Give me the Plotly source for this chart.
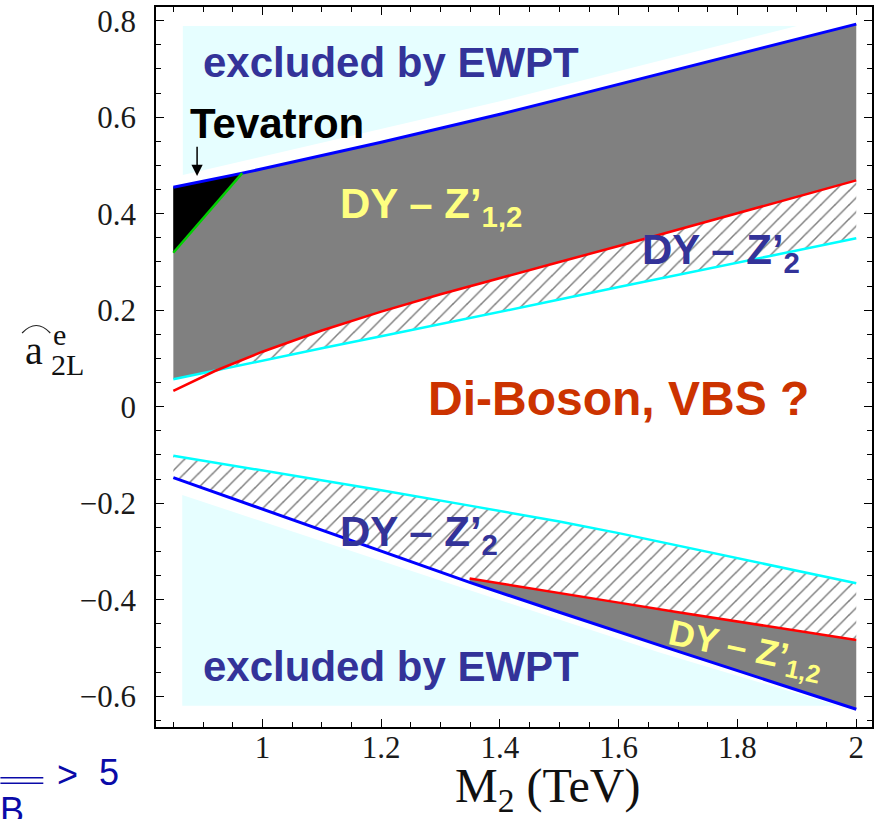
import plotly.graph_objects as go
import numpy as np

# ---------------- data ----------------
# upper branch (a > 0)
X_UP = [0.85, 0.9, 0.92, 0.95, 1.0, 1.1, 1.2, 1.3, 1.4, 1.5, 1.6, 1.7, 1.8, 1.9, 2.0]
EWPT_UP = [0.455, 0.467, 0.472, 0.480, 0.493, 0.520, 0.548, 0.577, 0.606, 0.637, 0.668, 0.700, 0.731, 0.762, 0.793]
DY12_UP = [0.033, 0.062, 0.074, 0.089, 0.114, 0.158, 0.197, 0.233, 0.267, 0.300, 0.333, 0.367, 0.401, 0.435, 0.469]
DY2_UP = [0.057, 0.070, 0.075, 0.082, 0.095, 0.121, 0.146, 0.171, 0.197, 0.222, 0.248, 0.273, 0.298, 0.324, 0.349]
# Tevatron bound
X_TEV = [0.85, 0.966]
TEV = [0.319, 0.484]

# lower branch (a < 0)
X_LO = [0.85, 1.0, 1.2, 1.349, 1.5, 1.6, 1.7, 1.8, 1.9, 2.0]
EWPT_LO = [-0.147, -0.212, -0.299, -0.364, -0.426, -0.467, -0.507, -0.547, -0.587, -0.627]
DY2_LO = [-0.1015, -0.132, -0.173, -0.205, -0.238, -0.262, -0.288, -0.313, -0.339, -0.366]
X_LO_R = [1.349, 1.5, 1.6, 1.7, 1.8, 1.9, 2.0]
DY12_LO = [-0.356, -0.387, -0.406, -0.426, -0.445, -0.464, -0.4835]

# excluded-by-EWPT shaded zones
EXC_UP_X = [0.866, 1.9, 1.4, 0.866]
EXC_UP_Y = [0.789, 0.789, 0.633, 0.480]
EXC_LO_X = [0.865, 1.348, 1.67, 1.97, 0.865]
EXC_LO_Y = [-0.183, -0.380, -0.510, -0.620, -0.620]

# ---------------- styles ----------------
LIGHT = "#E6FEFF"
GREY = "#808080"
BLUE = "#0000FF"
RED = "#FF0000"
CYAN = "#00FFFF"
GREEN = "#00D000"
DARKBLUE = "#333399"
YELLOW = "#FFFF80"
ORANGE = "#CC3300"
SANS = "Liberation Sans, Arial, sans-serif"
SERIF = "Liberation Serif, Times New Roman, serif"

W, H = 875, 819
L, R, T, B = 156, 1, 7, 92
XR = [0.8208, 2.0265]
YR = [-0.6638, 0.8284]

fig = go.Figure()

def poly(x, y, **kw):
    fig.add_trace(go.Scatter(x=list(x), y=list(y), mode="none", fill="toself",
                             hoverinfo="skip", showlegend=False, **kw))

def line(x, y, color, width):
    fig.add_trace(go.Scatter(x=x, y=y, mode="lines", line=dict(color=color, width=width),
                             hoverinfo="skip", showlegend=False))

# excluded regions
poly(EXC_UP_X, EXC_UP_Y, fillcolor=LIGHT)
poly(EXC_LO_X, EXC_LO_Y, fillcolor=LIGHT)

# upper: grey between EWPT and max(DY12, DY2), hatch between that and DY2
mid_up = np.maximum(DY12_UP, DY2_UP).tolist()
poly(X_UP + X_UP[::-1], EWPT_UP + mid_up[::-1], fillcolor=GREY)
hatch = dict(shape="/", fgcolor="black", bgcolor="white", size=10, solidity=0.15)
poly(X_UP + X_UP[::-1], mid_up + DY2_UP[::-1], fillcolor="white", fillpattern=hatch)

# Tevatron black region
poly([X_TEV[0], X_TEV[1], X_TEV[0]], [TEV[0], TEV[1], EWPT_UP[0]], fillcolor="black")

# lower: hatch between DY2 and (EWPT / DY12), grey between DY12 and EWPT
lo_ewpt_left_x = [x for x in X_LO if x <= X_LO_R[0]]
lo_ewpt_left_y = [y for x, y in zip(X_LO, EWPT_LO) if x <= X_LO_R[0]]
poly(X_LO + X_LO_R[::-1] + lo_ewpt_left_x[::-1],
     DY2_LO + DY12_LO[::-1] + lo_ewpt_left_y[::-1],
     fillcolor="white", fillpattern=hatch)
lo_ewpt_right_x = [x for x in X_LO if x >= X_LO_R[0]]
lo_ewpt_right_y = [y for x, y in zip(X_LO, EWPT_LO) if x >= X_LO_R[0]]
poly(X_LO_R + lo_ewpt_right_x[::-1], DY12_LO + lo_ewpt_right_y[::-1], fillcolor=GREY)

# boundary lines
line(X_UP, DY2_UP, CYAN, 2.5)
line(X_UP, DY12_UP, RED, 2.5)
line(X_UP, EWPT_UP, BLUE, 3)
line(X_TEV, TEV, GREEN, 2.5)
line(X_LO, DY2_LO, CYAN, 2.5)
line(X_LO_R, DY12_LO, RED, 2.5)
line(X_LO, EWPT_LO, BLUE, 3)

# ---------------- annotations ----------------
def pxp(px):  # paper coords from pixel
    return (px - L) / (W - L - R)

def pyp(py):
    return (H - B - py) / (H - T - B)

ann = []
def txt(text, x, y, size, color, family=SANS, xanchor="center", yanchor="middle", angle=0, ref="data"):
    d = dict(text=text, showarrow=False, font=dict(family=family, size=size, color=color),
             xanchor=xanchor, yanchor=yanchor, textangle=angle)
    if ref == "data":
        d.update(x=x, y=y, xref="x", yref="y")
    else:
        d.update(x=x, y=y, xref="paper", yref="paper")
    ann.append(d)

txt("<b>excluded by EWPT</b>", 1.217, 0.714, 42, DARKBLUE)
txt("<b>Tevatron</b>", 1.024, 0.586, 42, "black")
txt("<b>DY – Z’<sub>1,2</sub></b>", 1.128, 0.415, 42, YELLOW, xanchor="left")
txt("<b>DY – Z’<sub>2</sub></b>", 1.636, 0.320, 42, DARKBLUE, xanchor="left")
txt("<b>Di-Boson, VBS ?</b>", 1.599, 0.016, 48, ORANGE)
txt("<b>DY – Z’<sub>2</sub></b>", 1.127, -0.264, 42, DARKBLUE, xanchor="left")
txt("<b>excluded by EWPT</b>", 1.217, -0.539, 42, DARKBLUE)
txt("<b>DY – Z’<sub>1,2</sub></b>", 1.812, -0.505, 36, YELLOW, angle=12)

# arrow for Tevatron
ann.append(dict(x=0.890, y=0.478, ax=0.890, ay=0.542, xref="x", yref="y", axref="x", ayref="y",
                showarrow=True, arrowhead=2, arrowsize=1.5, arrowwidth=1.5, arrowcolor="black", text=""))

# axis titles
txt("M<sub>2</sub> (TeV)", pxp(549), pyp(789), 48, "#111111", family=SERIF, ref="paper")
txt("a", pxp(34), pyp(350), 40, "#111111", family=SERIF, ref="paper")
txt("e", pxp(59), pyp(334), 30, "#111111", family=SERIF, ref="paper")
txt("2L", pxp(67), pyp(364), 30, "#111111", family=SERIF, ref="paper")

# fragment bottom-left
FRAG = "#0A0AA8"
txt(">", pxp(67), pyp(774), 36, FRAG, ref="paper")
txt("5", pxp(109), pyp(772), 36, FRAG, ref="paper")
txt("B", pxp(-2), pyp(810), 36, FRAG, xanchor="left", ref="paper")

shapes = [
    dict(type="path", xref="paper", yref="paper",
         path=f"M {pxp(21.7)} {pyp(333)} Q {pxp(36)} {pyp(318)} {pxp(50)} {pyp(333)}",
         line=dict(color="#222222", width=1.2)),
    dict(type="line", xref="paper", yref="paper", x0=pxp(0), x1=pxp(43), y0=pyp(777.7), y1=pyp(777.7),
         line=dict(color=FRAG, width=1.6)),
    dict(type="line", xref="paper", yref="paper", x0=pxp(0), x1=pxp(43), y0=pyp(783.3), y1=pyp(783.3),
         line=dict(color=FRAG, width=1.6)),
]

axis_common = dict(showgrid=False, zeroline=False, ticks="inside", ticklen=8, tickwidth=1.3,
                   tickcolor="black", showline=True, linecolor="black", linewidth=1.5,
                   mirror="ticks", tickfont=dict(family=SERIF, size=31, color="#1a1a1a"))

fig.update_layout(
    width=W, height=H, margin=dict(l=L, r=R, t=T, b=B),
    paper_bgcolor="white", plot_bgcolor="white",
    xaxis=dict(range=XR, tick0=0, dtick=0.2, ticklabelstandoff=-8,
               minor=dict(dtick=0.05, ticks="inside", ticklen=5, tickcolor="black", tickwidth=1),
               **axis_common),
    yaxis=dict(range=YR, tick0=0, dtick=0.2, ticklabelstandoff=12,
               minor=dict(dtick=0.05, ticks="inside", ticklen=5, tickcolor="black", tickwidth=1),
               **axis_common),
    annotations=ann, shapes=shapes, showlegend=False,
)

fig.write_html("out.html")
